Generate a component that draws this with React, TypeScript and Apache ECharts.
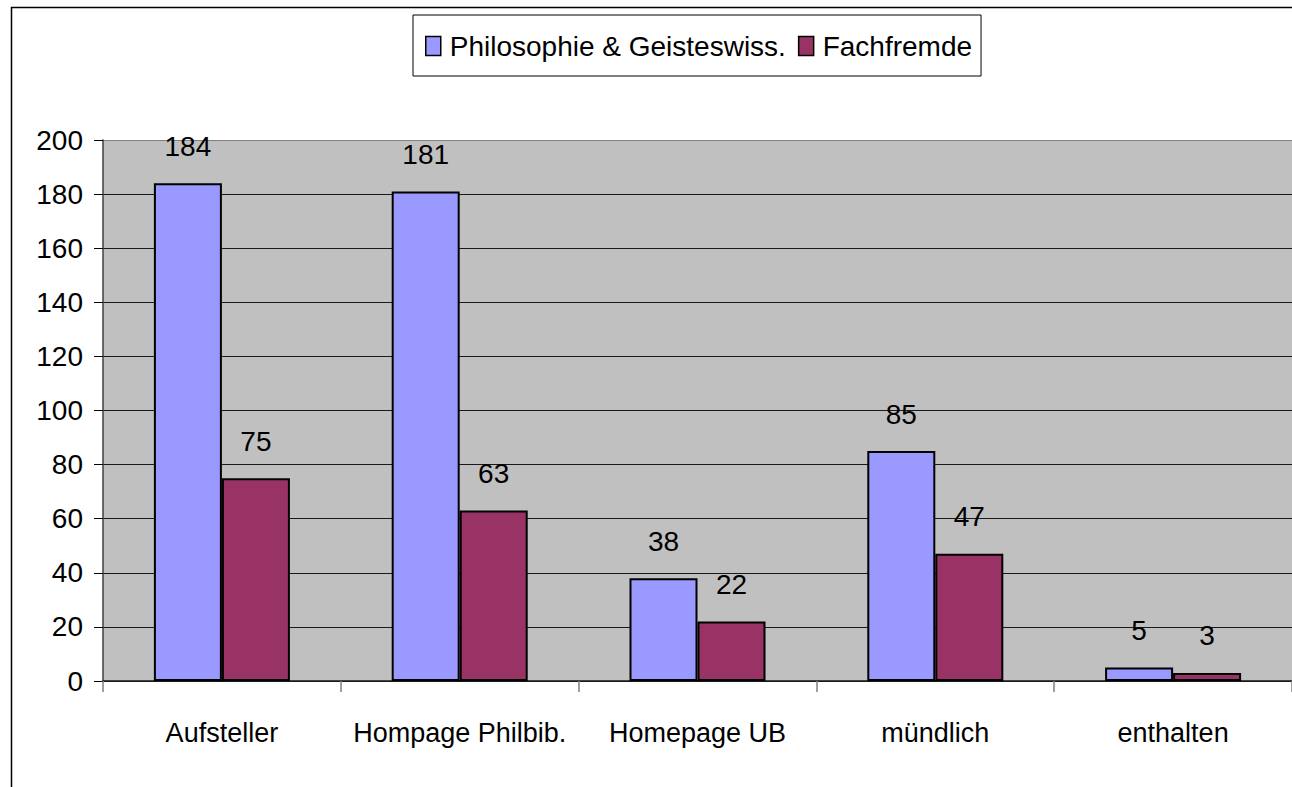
import React, { useEffect, useRef } from "react";
import * as echarts from "echarts";

const categories = ["Aufsteller", "Hompage Philbib.", "Homepage UB", "mündlich", "enthalten"];
const seriesNames = ["Philosophie & Geisteswiss.", "Fachfremde"];
const philosophie = [184, 181, 38, 85, 5];
const fachfremde = [75, 63, 22, 47, 3];
const yMin = 0;
const yMax = 200;
const yInterval = 20;

const FONT = "'Liberation Sans', Arial, sans-serif";

export default function App() {
  const ref = useRef<HTMLDivElement>(null);
  useEffect(() => {
    if (!ref.current) return;
    const chart = echarts.init(ref.current, undefined, { renderer: "svg" });
    const lineCount = (yMax - yMin) / yInterval + 1;
    const splitColors = Array.from({ length: lineCount }, (_, i) => (i === lineCount - 1 ? "#808080" : "#1a1a1a"));
    chart.setOption({
      animation: false,
      backgroundColor: "#ffffff",
      textStyle: { fontFamily: FONT },
      graphic: [
        {
          type: "rect",
          z: 100,
          silent: true,
          shape: { x: 11.5, y: 7.5, width: 1400, height: 900 },
          style: { fill: "none", stroke: "#000000", lineWidth: 1.5 },
        },
      ],
      legend: {
        left: 413,
        top: 15,
        orient: "horizontal",
        backgroundColor: "#ffffff",
        borderColor: "#000000",
        borderWidth: 1,
        borderRadius: 0,
        padding: [12, 9, 11, 12],
        itemGap: 12,
        itemWidth: 15,
        itemHeight: 19,
        icon: "rect",
        itemStyle: { borderColor: "#000", borderWidth: 1.5 },
        textStyle: { fontFamily: FONT, fontSize: 28, color: "#000", lineHeight: 38, padding: [0, 0, 0, 4] },
        data: seriesNames,
      },
      grid: {
        left: 103,
        top: 140,
        right: -3.5,
        bottom: 106,
        show: true,
        backgroundColor: "#c0c0c0",
        borderWidth: 0,
      },
      xAxis: {
        type: "category",
        data: categories,
        axisLine: { show: true, lineStyle: { color: "#1a1a1a", width: 1.5 } },
        axisTick: { show: true, length: 11, alignWithLabel: false, lineStyle: { color: "#808080", width: 1.5 } },
        axisLabel: { fontFamily: FONT, fontSize: 27, color: "#000", margin: 38, interval: 0 },
        splitLine: { show: false },
      },
      yAxis: {
        type: "value",
        min: yMin,
        max: yMax,
        interval: yInterval,
        axisLine: { show: true, lineStyle: { color: "#404040", width: 1.5 } },
        axisTick: { show: true, length: 9, lineStyle: { color: "#000", width: 1 } },
        axisLabel: { fontFamily: FONT, fontSize: 28, color: "#000", margin: 20 },
        splitLine: { show: true, lineStyle: { color: splitColors, width: 1 } },
      },
      series: [
        {
          name: seriesNames[0],
          type: "bar",
          data: philosophie,
          barWidth: 68,
          barGap: "0%",
          itemStyle: { color: "#9999ff", borderColor: "#000000", borderWidth: 2 },
          label: { show: true, position: "top", distance: 23, fontFamily: FONT, fontSize: 28, color: "#000" },
        },
        {
          name: seriesNames[1],
          type: "bar",
          data: fachfremde,
          barWidth: 68,
          barGap: "0%",
          itemStyle: { color: "#993366", borderColor: "#000000", borderWidth: 2 },
          label: { show: true, position: "top", distance: 23, fontFamily: FONT, fontSize: 28, color: "#000" },
        },
      ],
    });
    return () => chart.dispose();
  }, []);
  return <div ref={ref} style={{ position: "absolute", left: 0, top: 0, width: 1292, height: 787 }} />;
}
